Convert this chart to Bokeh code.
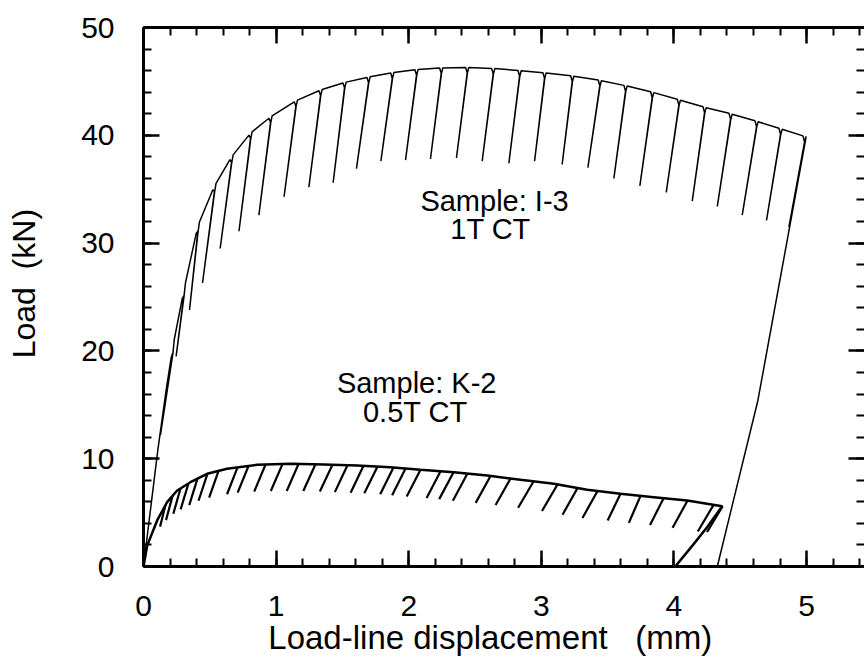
import numpy as np
from bokeh.plotting import figure
from bokeh.models import Range1d, LinearAxis, SingleIntervalTicker, Label, CustomJSTickFormatter
from bokeh.embed import file_html
from bokeh.resources import INLINE

# ---------------- data ----------------
# Sample I-3 (1T CT): loading envelope
i3_env_x = [0.0, 0.05, 0.108, 0.17, 0.22, 0.304, 0.41, 0.535, 0.664, 0.807, 0.958, 1.149, 1.335,
            1.516, 1.697, 1.876, 2.059, 2.245, 2.441, 2.637, 2.836, 3.024, 3.233, 3.441, 3.635,
            3.836, 4.037, 4.231, 4.427, 4.623, 4.804, 4.985]
i3_env_y = [0.0, 5.0, 10.8, 16.3, 20.3, 25.6, 31.6, 35.3, 38.0, 40.2, 41.7, 43.2, 44.2,
            44.9, 45.4, 45.8, 46.1, 46.25, 46.3, 46.2, 46.0, 45.8, 45.5, 45.1, 44.6,
            44.0, 43.3, 42.6, 42.0, 41.3, 40.6, 39.9]
# partial unloadings: start displacement, end displacement, end load
i3_unl_top_x = [0.22, 0.304, 0.41, 0.535, 0.664, 0.807, 0.958, 1.149, 1.335, 1.516, 1.697, 1.876,
                2.059, 2.245, 2.441, 2.637, 2.836, 3.024, 3.233, 3.441, 3.635, 3.836, 4.037,
                4.231, 4.427, 4.623, 4.804, 4.985]
i3_unl_bot_x = [0.128, 0.246, 0.347, 0.445, 0.578, 0.72, 0.87, 1.06, 1.247, 1.43, 1.606, 1.79,
                1.976, 2.164, 2.36, 2.554, 2.755, 2.949, 3.157, 3.351, 3.547, 3.743, 3.942,
                4.138, 4.327, 4.515, 4.698, 4.867]
i3_unl_bot_y = [12.2, 19.5, 23.8, 26.3, 29.5, 31.1, 32.6, 34.3, 35.2, 35.6, 36.9, 37.6,
                37.7, 37.8, 37.9, 37.6, 37.4, 37.6, 37.3, 37.0, 36.0, 35.3, 34.7,
                33.9, 33.4, 32.6, 32.1, 31.5]
# final unloading
i3_fin_x = [4.99, 4.633, 4.327]
i3_fin_y = [39.4, 15.4, 0.0]

# Sample K-2 (0.5T CT): loading envelope
k2_env_x = [0.0, 0.028, 0.103, 0.178, 0.254, 0.354, 0.48, 0.63, 0.857, 1.109, 1.36, 1.61, 1.86,
            2.089, 2.34, 2.592, 2.843, 3.094, 3.346, 3.597, 3.848, 4.1, 4.364]
k2_env_y = [0.0, 1.95, 4.27, 5.97, 7.05, 7.82, 8.6, 9.06, 9.43, 9.52, 9.46, 9.37, 9.21,
            8.97, 8.75, 8.44, 8.04, 7.67, 7.12, 6.74, 6.43, 6.12, 5.59]
# partial unloadings
k2_unl_top_x = [0.166, 0.219, 0.279, 0.339, 0.407, 0.482, 0.566, 0.709, 0.792, 0.92, 1.048, 1.169,
                1.297, 1.425, 1.538, 1.659, 1.765, 1.885, 1.976, 2.089, 2.24, 2.338, 2.443,
                2.617, 2.768, 2.941, 3.122, 3.273, 3.424, 3.597, 3.748, 3.922, 4.103, 4.299, 4.367]
k2_unl_top_y = [5.70, 6.55, 7.24, 7.70, 8.15, 8.60, 8.86, 9.19, 9.32, 9.45, 9.50, 9.51,
                9.48, 9.44, 9.40, 9.34, 9.27, 9.19, 9.08, 8.97, 8.84, 8.75, 8.62,
                8.40, 8.16, 7.89, 7.61, 7.28, 7.00, 6.74, 6.55, 6.34, 6.12, 5.72, 5.59]
k2_unl_bot_x = [0.125, 0.17, 0.225, 0.28, 0.345, 0.415, 0.495, 0.63, 0.71, 0.835, 0.96, 1.08,
                1.205, 1.33, 1.443, 1.562, 1.665, 1.785, 1.875, 1.985, 2.135, 2.23, 2.333,
                2.505, 2.655, 2.825, 3.005, 3.16, 3.31, 3.50, 3.66, 3.82, 3.99, 4.18, 4.25]
k2_unl_bot_y = [3.7, 4.3, 4.9, 5.3, 5.7, 6.1, 6.4, 6.7, 6.85, 6.95, 7.0, 7.0,
                7.0, 6.95, 6.9, 6.85, 6.8, 6.7, 6.6, 6.5, 6.35, 6.25, 6.1,
                5.9, 5.7, 5.45, 5.15, 4.8, 4.5, 4.27, 4.05, 3.85, 3.6, 3.25, 3.2]
# final unloading
k2_fin_x = [4.364, 4.25, 4.15, 4.01]
k2_fin_y = [5.59, 3.65, 2.1, 0.0]

x_ticks_major = 1
y_ticks_major = 10
x_title = "Load-line displacement\u00a0\u00a0\u00a0(mm)"
y_title = "Load\u00a0\u00a0(kN)"

FONT = "Liberation Sans"
NB = "\u00a0"


def sawtooth(env_x, env_y, top_x, bot_x, bot_y, w=0.012, dip=0.5):
    ex = np.asarray(env_x, float)
    ey = np.asarray(env_y, float)
    events = []
    for x, y in zip(ex, ey):
        if all(abs(x - t) > w for t in top_x):
            events.append((x, 0, y, None))
    for t, bx, by in zip(top_x, bot_x, bot_y):
        events.append((t, 1, bx, by))
    events.sort(key=lambda e: (e[0], e[1]))
    xs, ys = [], []
    for e in events:
        if e[1] == 0:
            xs.append(e[0]); ys.append(e[2])
        else:
            t, bx, by = e[0], e[2], e[3]
            ty = float(np.interp(t, ex, ey))
            xs += [t - w, t, bx, t + 0.002, t + w]
            ys += [float(np.interp(t - w, ex, ey)), ty - dip, by, ty - dip,
                   float(np.interp(t + w, ex, ey))]
    return xs, ys


p = figure(width=864, height=661, x_range=Range1d(0, 5.437), y_range=Range1d(0, 50),
           output_backend="svg", toolbar_location=None,
           min_border_left=143, min_border_right=0, min_border_top=27, min_border_bottom=95,
           x_axis_location=None, y_axis_location=None)
p.outline_line_color = None
p.background_fill_color = "white"
p.border_fill_color = "white"
for g in p.grid:
    g.visible = False


def make_axis(interval, labels):
    ax = LinearAxis(ticker=SingleIntervalTicker(interval=interval, num_minor_ticks=5))
    ax.axis_line_width = 3
    ax.axis_line_color = "black"
    ax.major_tick_in = 16
    ax.major_tick_out = 0
    ax.minor_tick_in = 8
    ax.minor_tick_out = 0
    ax.major_tick_line_width = 2.5
    ax.minor_tick_line_width = 2
    ax.major_tick_line_color = "black"
    ax.minor_tick_line_color = "black"
    if labels:
        ax.major_label_text_font = FONT
        ax.major_label_text_font_size = "30px"
        ax.major_label_text_color = "black"
        ax.major_label_standoff = 29
        ax.axis_label_text_font = FONT
        ax.axis_label_text_font_size = "32px"
        ax.axis_label_text_font_style = "normal"
        ax.axis_label_text_color = "black"
    else:
        ax.formatter = CustomJSTickFormatter(code="return ''")
        ax.major_label_text_color = None
        ax.major_label_text_font_size = "1px"
        ax.major_label_standoff = 0
    return ax


xb = make_axis(x_ticks_major, True)
xb.axis_label = x_title + NB * 3
xb.axis_label_text_font_size = "33px"
xb.axis_label_standoff = 0
p.add_layout(xb, "below")
yl = make_axis(y_ticks_major, True)
yl.axis_label = NB * 3 + y_title
yl.axis_label_standoff = 36
p.add_layout(yl, "left")
p.add_layout(make_axis(x_ticks_major, False), "above")
rax = make_axis(y_ticks_major, False)
rax.axis_line_color = None
p.add_layout(rax, "right")

# I-3 curve
ix, iy = sawtooth(i3_env_x, i3_env_y, i3_unl_top_x, i3_unl_bot_x, i3_unl_bot_y)
ix += i3_fin_x
iy += i3_fin_y
p.line(ix, iy, line_color="black", line_width=1.5)

# K-2 curve
p.line(k2_env_x + k2_fin_x[1:], k2_env_y + k2_fin_y[1:], line_color="black", line_width=2.5)
p.segment(x0=k2_unl_top_x, y0=k2_unl_top_y, x1=k2_unl_bot_x, y1=k2_unl_bot_y,
          line_color="black", line_width=2.2)

# texts
for txt, x, y in [("Sample: I-3", 2.647, 33.9), ("1T CT", 2.617, 31.35),
                  ("Sample: K-2", 2.06, 17.0), ("0.5T CT", 2.05, 14.35)]:
    p.add_layout(Label(x=x, y=y, text=txt, text_align="center", text_baseline="middle",
                       text_font=FONT, text_font_size="29px", text_color="black"))

open("out.html", "w").write(file_html(p, INLINE))
